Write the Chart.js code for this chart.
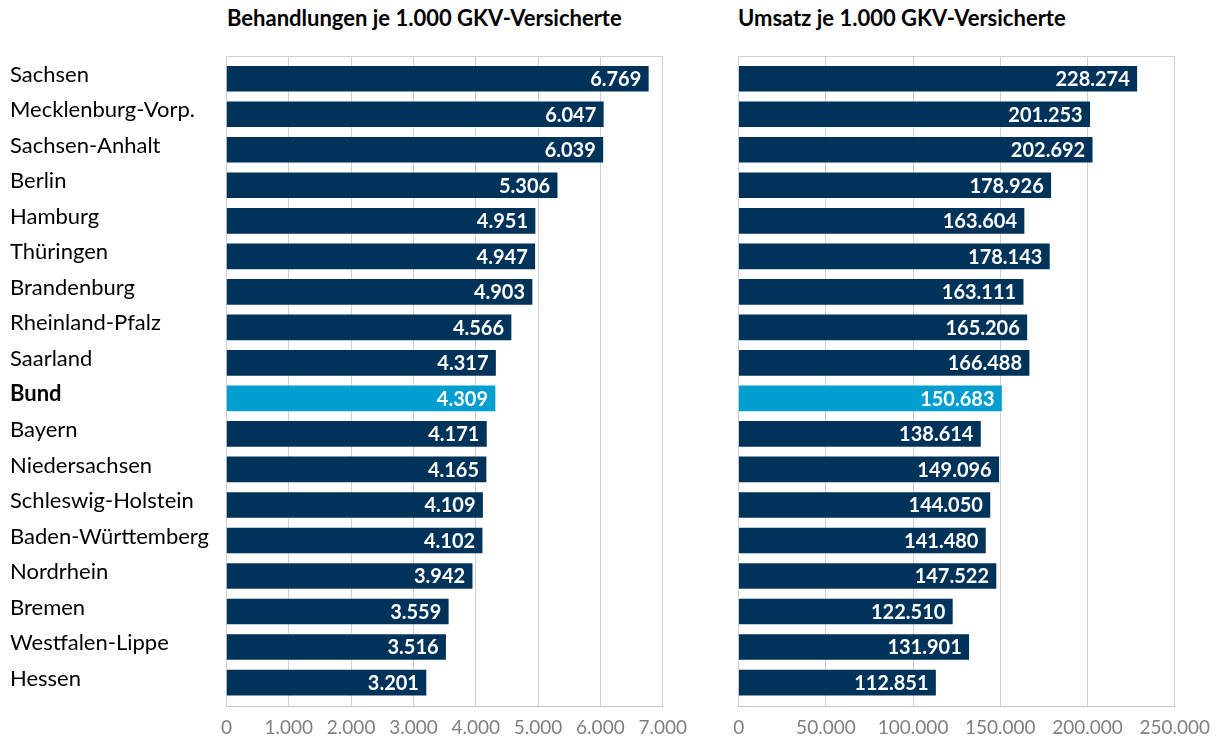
<!DOCTYPE html>
<html>
<head>
<meta charset="utf-8">
<script src="https://cdn.jsdelivr.net/npm/chart.js@4"></script>
<style>
	body { margin: 0; background: #fff; width: 1216px; height: 740px; position: relative; overflow: hidden; font-family: Lato, "Open Sans", sans-serif; }
	.title { position: absolute; top: 4px; font-weight: bold; font-size: 22px; line-height: 28px; color: #000; white-space: nowrap; }
	.box { position: absolute; top: 0; height: 740px; }
</style>
</head>
<body>
<div class="title" style="left:227px">Behandlungen je 1.000 GKV-Versicherte</div>
<div class="title" style="left:738px">Umsatz je 1.000 GKV-Versicherte</div>
<div class="box" style="left:0; width:700px"><canvas id="chart"></canvas></div>
<div class="box" style="left:690px; width:540px"><canvas id="umsatzChart"></canvas></div>
<script>
// Categories (top to bottom)
const regions = [
	"Sachsen", "Mecklenburg-Vorp.", "Sachsen-Anhalt", "Berlin", "Hamburg", "Thüringen",
	"Brandenburg", "Rheinland-Pfalz", "Saarland", "Bund", "Bayern", "Niedersachsen",
	"Schleswig-Holstein", "Baden-Württemberg", "Nordrhein", "Bremen", "Westfalen-Lippe", "Hessen"
];

// Behandlungen je 1.000 GKV-Versicherte
const behandlungen = [6769, 6047, 6039, 5306, 4951, 4947, 4903, 4566, 4317, 4309, 4171, 4165, 4109, 4102, 3942, 3559, 3516, 3201];

// Umsatz je 1.000 GKV-Versicherte
const umsatz = [228274, 201253, 202692, 178926, 163604, 178143, 163111, 165206, 166488, 150683, 138614, 149096, 144050, 141480, 147522, 122510, 131901, 112851];

const navy = "#00335a";
const lightBlue = "#009fd0";
const gridGrey = "#d0d0d0";

function fmt(n) {
	return String(n).replace(/\B(?=(\d{3})+(?!\d))/g, ".");
}

const barColors = regions.map((r) => (r === "Bund" ? lightBlue : navy));

// white value labels at the end of each bar
const valueLabels = {
	id: "valueLabels",
	afterDatasetsDraw(chart) {
		const ctx = chart.ctx;
		const meta = chart.getDatasetMeta(0);
		const values = chart.data.datasets[0].data;
		ctx.save();
		ctx.fillStyle = "#fff";
		ctx.font = "bold 20px Lato";
		ctx.textAlign = "right";
		ctx.textBaseline = "middle";
		meta.data.forEach((bar, i) => {
			ctx.fillText(fmt(values[i].x), bar.x - 7, bar.y + 1);
		});
		ctx.restore();
	},
};

// top line of the plot frame
const frameTop = {
	id: "frameTop",
	beforeDatasetsDraw(chart) {
		const a = chart.chartArea;
		const ctx = chart.ctx;
		ctx.save();
		ctx.strokeStyle = gridGrey;
		ctx.lineWidth = 1;
		ctx.beginPath();
		ctx.moveTo(a.left, Math.round(a.top) + 0.5);
		ctx.lineTo(a.right, Math.round(a.top) + 0.5);
		ctx.stroke();
		ctx.restore();
	},
};

function makeChart(canvasId, values, maxVal, step, showLabels, padLeft, padRight) {
	return new Chart(document.getElementById(canvasId), {
		type: "bar",
		data: {
			datasets: [
				{
					data: values.map((v, i) => ({ x: v, y: i })),
					backgroundColor: barColors,
					barThickness: 25,
				},
			],
		},
		options: {
			indexAxis: "y",
			responsive: true,
			maintainAspectRatio: false,
			animation: false,
			layout: { padding: { left: padLeft, top: 56, right: padRight, bottom: 0 } },
			plugins: { legend: { display: false }, tooltip: { enabled: false } },
			scales: {
				x: {
					type: "linear",
					min: 0,
					max: maxVal,
					grid: { color: gridGrey, drawTicks: false },
					border: { color: "#c4c4c4" },
					ticks: {
						stepSize: step,
						padding: 10,
						maxRotation: 0,
						autoSkip: false,
						color: "#808080",
						font: { family: "Lato", size: 19 },
						callback: (v) => fmt(v),
					},
					afterFit: (scale) => { scale.height = 34; },
				},
				y: {
					type: "linear",
					reverse: true,
					offset: false,
					min: -0.64,
					max: 17.66,
					display: showLabels,
					grid: { display: false },
					border: { color: gridGrey },
					afterBuildTicks: (scale) => {
						scale.ticks = regions.map((r, i) => ({ value: i }));
					},
					afterFit: (scale) => { scale.width = showLabels ? 216.5 : 0; },
					ticks: {
						crossAlign: "far",
						labelOffset: -4,
						color: "#000",
						font: (c) => ({
							family: "Lato",
							size: 22,
							weight: regions[c.index] === "Bund" ? "bold" : "normal",
						}),
						callback: (v) => regions[v],
					},
				},
			},
		},
		plugins: [valueLabels, frameTop],
	});
}

makeChart("chart", behandlungen, 7000, 1000, true, 10, 37.3);
makeChart("umsatzChart", umsatz, 250000, 50000, false, 48.7, 55.3);
</script>
</body>
</html>
